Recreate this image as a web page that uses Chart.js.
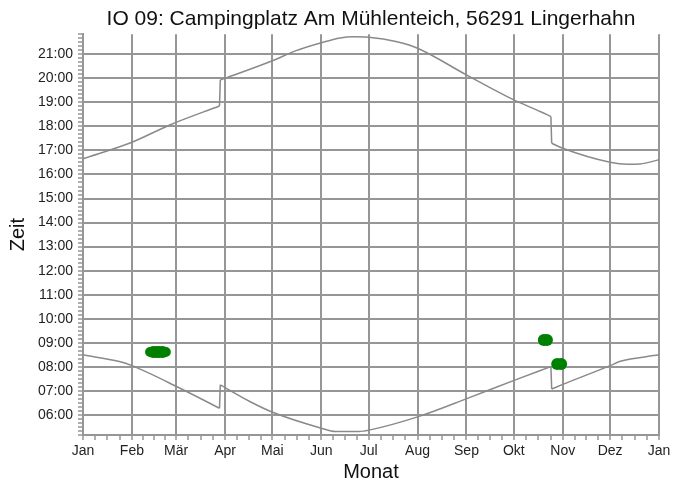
<!DOCTYPE html>
<html>
<head>
<meta charset="utf-8">
<script src="https://cdn.jsdelivr.net/npm/chart.js@4.4.1/dist/chart.umd.min.js"></script>
<style>
  html, body { margin: 0; padding: 0; background: #fff; }
  #wrap { width: 674px; height: 486px; }
</style>
</head>
<body>
<div id="wrap"><canvas id="c" width="674" height="486"></canvas></div>
<script>
// ---- Data (day of year, time in hours) ----
const titleText = 'IO 09: Campingplatz Am Mühlenteich, 56291 Lingerhahn';
const monthLabels = ['Jan','Feb','Mär','Apr','Mai','Jun','Jul','Aug','Sep','Okt','Nov','Dez','Jan'];
const monthStarts = [0,31,59,90,120,151,181,212,243,273,304,334,365];

const sunsetDays  = [0, 31, 55, 86.5, 87, 90, 120, 135, 151, 163, 171, 181, 199, 212, 243, 273, 290, 296.5, 297, 304, 334, 345, 353, 365];
const sunsetTimes = [16.65, 17.34, 18.06, 18.85, 19.93, 20.00, 20.73, 21.15, 21.48, 21.68, 21.73, 21.71, 21.52, 21.25, 20.14, 19.10, 18.61, 18.41, 17.30, 17.09, 16.51, 16.43, 16.44, 16.61];

const sunriseDays  = [0, 23, 31, 61.5, 86.5, 87, 106, 120.6, 151, 160, 175, 182, 212.5, 244, 274, 296.5, 297, 304, 334, 340, 365];
const sunriseTimes = [8.50, 8.22, 8.05, 7.11, 6.28, 7.25, 6.55, 6.10, 5.45, 5.31, 5.31, 5.38, 5.93, 6.70, 7.46, 8.01, 7.08, 7.27, 8.05, 8.22, 8.50];

const shadowDays  = [42.5, 44.5, 46.5, 48.5, 50.5, 52.5, 292, 294, 300.5, 303];
const shadowTimes = [8.62, 8.62, 8.62, 8.62, 8.62, 8.62, 9.12, 9.12, 8.12, 8.12];

const yMin = 5 + 10/60, yMax = 21 + 50/60;
const yHourTicks = [6,7,8,9,10,11,12,13,14,15,16,17,18,19,20,21];

// ---- Build ----
const pts = (xs, ys) => xs.map((x, i) => ({x: x, y: ys[i]}));
const isMonth = v => monthStarts.some(m => Math.abs(m - v) < 1e-6);
const isHour = v => Math.abs(v - Math.round(v)) < 1e-6;

// split a curve into smooth pieces and the (clock change) jumps between them
function curveDatasets(days, times, color) {
  const p = pts(days, times);
  const out = [];
  let seg = [p[0]];
  for (let i = 1; i < p.length; i++) {
    if (p[i].x - p[i-1].x < 1) {
      out.push({ data: seg, cubicInterpolationMode: 'monotone' });
      out.push({ data: [p[i-1], p[i]], tension: 0 });
      seg = [p[i]];
    } else seg.push(p[i]);
  }
  out.push({ data: seg, cubicInterpolationMode: 'monotone' });
  return out.map(d => Object.assign(d, { showLine: true, borderColor: color, borderWidth: 1.5, pointRadius: 0, fill: false }));
}

const xTickValues = [];
for (let i = 0; i < monthStarts.length - 1; i++) {
  const a = monthStarts[i], b = monthStarts[i+1];
  for (let k = 0; k < 4; k++) xTickValues.push(a + (b - a) * k / 4);
}
xTickValues.push(365);

const yTickValues = [];
for (let m = Math.round(yMin * 60); m <= Math.round(yMax * 60); m += 10) yTickValues.push(m / 60);

const GRID = '#969696';
const LINE = '#8a8a8a';
const FONT = 'Liberation Sans, Arial, sans-serif';

new Chart(document.getElementById('c'), {
  type: 'scatter',
  data: {
    datasets: [
      { label: 'Schatten', data: pts(shadowDays, shadowTimes), backgroundColor: '#008000', borderWidth: 0,
        pointRadius: c => (c.dataIndex === 0 || c.dataIndex === 5) ? 5 : 6, pointHoverRadius: 6 },
      ...curveDatasets(sunsetDays, sunsetTimes, LINE),
      ...curveDatasets(sunriseDays, sunriseTimes, LINE)
    ]
  },
  options: {
    responsive: false,
    animation: false,
    layout: { padding: { left: 0, right: 15, top: 0, bottom: 0 } },
    plugins: {
      legend: { display: false },
      tooltip: { enabled: false },
      title: {
        display: true, text: titleText, fullSize: false,
        color: '#111', font: { family: FONT, size: 21, weight: 'normal' },
        padding: { top: 7, bottom: 2 }
      }
    },
    scales: {
      x: {
        type: 'linear', min: 0, max: 365,
        afterBuildTicks: s => { s.ticks = xTickValues.map(v => ({ value: v })); },
        afterFit: s => { s.height = 51; },
        ticks: {
          autoSkip: false, maxRotation: 0, padding: 3, color: '#222',
          font: { family: FONT, size: 14 },
          callback: v => { const i = monthStarts.findIndex(m => Math.abs(m - v) < 1e-6); return i >= 0 ? monthLabels[i] : ''; }
        },
        grid: {
          color: c => isMonth(c.tick.value) ? GRID : 'rgba(0,0,0,0)',
          lineWidth: 2, tickColor: GRID, tickLength: 5, tickWidth: 1.5
        },
        border: { color: GRID, width: 2 },
        title: { display: true, text: 'Monat', color: '#111', font: { family: FONT, size: 20 }, padding: { top: 0, bottom: 2 } }
      },
      y: {
        type: 'linear', min: yMin, max: yMax,
        afterBuildTicks: s => { s.ticks = yTickValues.map(v => ({ value: v })); },
        afterFit: s => { s.width = 83; },
        ticks: {
          autoSkip: false, padding: 5, color: '#222',
          font: { family: FONT, size: 14 },
          callback: v => isHour(v) && yHourTicks.includes(Math.round(v)) ? String(Math.round(v)).padStart(2, '0') + ':00' : ''
        },
        grid: {
          color: c => isHour(c.tick.value) && yHourTicks.includes(Math.round(c.tick.value)) ? GRID : 'rgba(0,0,0,0)',
          lineWidth: 2, tickColor: GRID, tickLength: 5, tickWidth: 1.5
        },
        border: { color: GRID, width: 2 },
        title: { display: true, text: 'Zeit', color: '#111', font: { family: FONT, size: 20 }, padding: { top: 6, bottom: 0 } }
      }
    }
  }
});
</script>
</body>
</html>
